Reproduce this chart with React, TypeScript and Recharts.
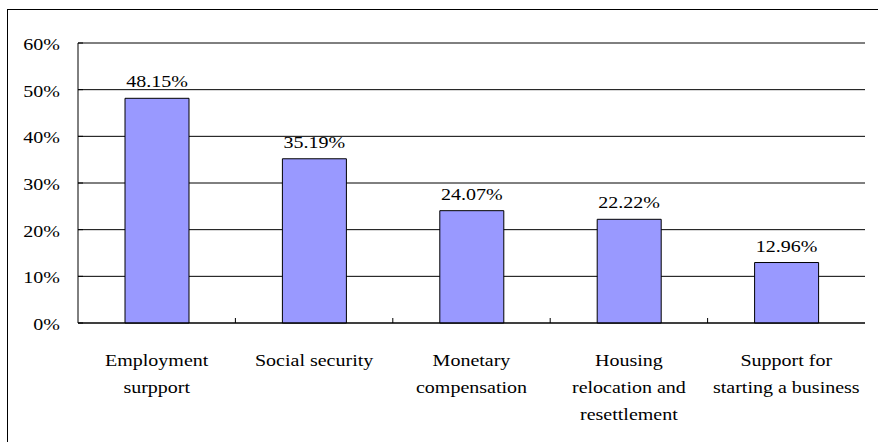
import { BarChart, Bar, XAxis, YAxis, CartesianGrid, LabelList, ReferenceLine } from "recharts";

const categories = [
  "Employment surpport",
  "Social security",
  "Monetary compensation",
  "Housing relocation and resettlement",
  "Support for starting a business",
];
const shares = [48.15, 35.19, 24.07, 22.22, 12.96];
const tickLines = [
  ["Employment", "surpport"],
  ["Social security"],
  ["Monetary", "compensation"],
  ["Housing", "relocation and", "resettlement"],
  ["Support for", "starting a business"],
];
const yTicks = [0, 10, 20, 30, 40, 50, 60];

const textStyle = { fontFamily: "Liberation Serif, Times New Roman, serif", fontSize: 16 };
const STRETCH = "scale(1.25,1)";

const data = categories.map((name, i) => ({ name, value: shares[i] }));

function XTick(props: any) {
  const { x, y, index } = props;
  const lines = tickLines[index] || [props.payload.value];
  const half = 78.7;
  return (
    <g>
      {index < categories.length - 1 && (
        <line x1={x + half} x2={x + half} y1={y} y2={y - 5} stroke="#000" />
      )}
      <text
        transform={`translate(${x},${y}) ${STRETCH}`}
        textAnchor="middle"
        style={textStyle}
        fill="#000"
      >
        {lines.map((l: string, i: number) => (
          <tspan key={i} x={0} y={43 + i * 27}>
            {l}
          </tspan>
        ))}
      </text>
    </g>
  );
}

function YTick(props: any) {
  const { x, y, payload } = props;
  return (
    <g>
      <line x1={x} x2={x + 5} y1={y} y2={y} stroke="#000" />
      <text
        transform={`translate(${x - 18},${y + 7}) ${STRETCH}`}
        textAnchor="end"
        style={textStyle}
        fill="#000"
      >
        {payload.value}%
      </text>
    </g>
  );
}

function ValueLabel(props: any) {
  const { x, y, width, value } = props;
  return (
    <text
      transform={`translate(${x + width / 2},${y - 11}) ${STRETCH}`}
      textAnchor="middle"
      style={textStyle}
      fill="#000"
    >
      {Number(value).toFixed(2)}%
    </text>
  );
}

export default function App() {
  return (
    <div
      style={{
        position: "fixed",
        left: 0,
        top: 0,
        width: 878,
        height: 442,
        overflow: "hidden",
        background: "#fff",
      }}
    >
      <div
        style={{
          position: "absolute",
          left: 7,
          top: 9,
          width: 880,
          height: 460,
          border: "1px solid #000",
        }}
      />
      <div style={{ position: "absolute", left: 0, top: 0 }}>
        <BarChart
          width={878}
          height={442}
          data={data}
          margin={{ top: 43, right: 13, bottom: 19, left: 0 }}
        >
          <CartesianGrid vertical={false} stroke="#000" />
          <XAxis
            dataKey="name"
            height={100}
            interval={0}
            axisLine={{ stroke: "#000" }}
            tickLine={false}
            tickSize={0}
            tickMargin={0}
            tick={<XTick />}
          />
          <YAxis
            width={78}
            domain={[0, 60]}
            ticks={yTicks}
            axisLine={{ stroke: "#000" }}
            tickLine={false}
            tickSize={0}
            tickMargin={0}
            tick={<YTick />}
          />
          <YAxis
            yAxisId="r"
            orientation="right"
            width={0}
            domain={[0, 60]}
            tick={false}
            tickLine={false}
            axisLine={{ stroke: "#808080" }}
          />
          <ReferenceLine y={60} stroke="#808080" />
          <Bar
            dataKey="value"
            fill="#9999FF"
            stroke="#000"
            strokeWidth={1}
            barSize={64}
            isAnimationActive={false}
          >
            <LabelList dataKey="value" content={<ValueLabel />} />
          </Bar>
        </BarChart>
      </div>
    </div>
  );
}
